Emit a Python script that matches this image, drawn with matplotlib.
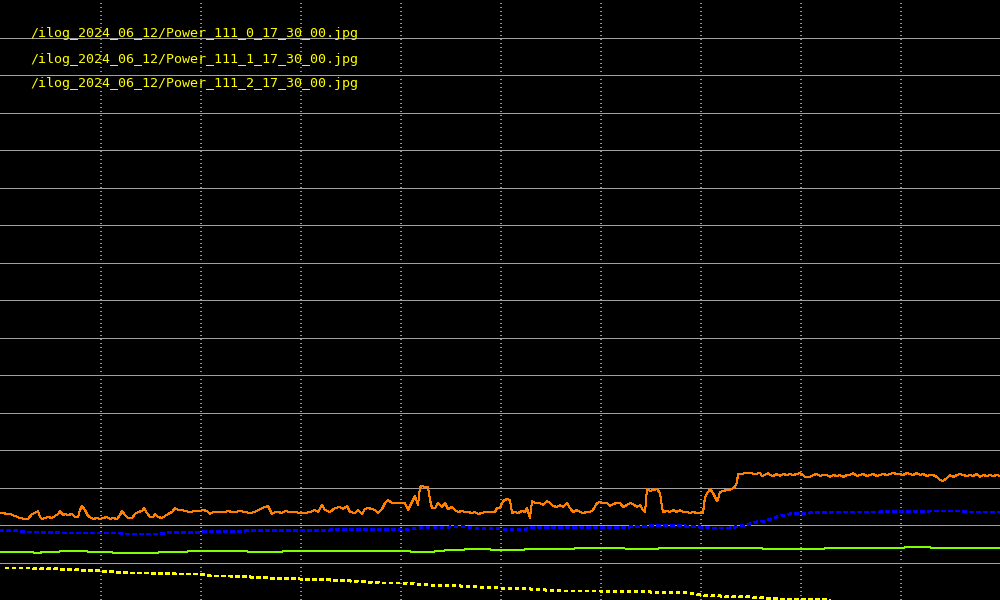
import matplotlib
matplotlib.use("Agg")
import matplotlib.pyplot as plt
import numpy as np

# ---- data (sample index 0..1000, level in screen units 0..600) ----
file_labels = [
    "/ilog_2024_06_12/Power_111_0_17_30_00.jpg",
    "/ilog_2024_06_12/Power_111_1_17_30_00.jpg",
    "/ilog_2024_06_12/Power_111_2_17_30_00.jpg",
]

orange_x = [0, 10, 15, 20, 25, 28, 32, 35, 38, 40, 42, 45, 48, 52, 55, 58, 60, 63, 65, 68,
            72, 75, 78, 80, 82, 85, 88, 90, 93, 97, 100, 103, 107, 110, 113, 117, 120, 122, 125, 128,
            132, 135, 138, 142, 144, 147, 150, 153, 155, 158, 162, 165, 168, 172, 175, 178, 182, 185, 190, 195,
            200, 203, 207, 210, 213, 218, 225, 228, 232, 235, 240, 245,
            250, 255, 260, 265, 268, 270, 272, 275, 278, 282, 285, 290, 295, 300, 305, 310, 315, 318, 322, 325,
            330, 335, 340, 343, 347, 350, 355, 358, 362, 365, 368, 372, 375, 378, 382, 385, 388, 392, 395, 400,
            405, 408, 412, 415, 418, 420, 422, 425, 428, 430, 432, 435, 438, 442, 445, 448, 452, 455, 458, 462,
            465, 468, 472, 475, 478, 482, 485, 488, 492, 495, 497,
            500, 503, 507, 510, 512, 515, 518, 522, 525, 527, 530, 532, 535, 540, 543, 547, 550, 553, 557, 560,
            563, 567, 570, 573, 577, 580, 583, 587, 590, 593, 597, 600, 603, 607, 610, 613, 617, 620, 623, 627,
            630, 633, 637, 640, 643, 645, 647, 650, 653, 657, 660, 662, 663, 667, 670, 673, 677, 680, 683, 687,
            690, 693, 697, 700, 703, 705, 708, 710, 713, 715, 717, 718, 720, 723, 727, 730, 733, 735, 737, 738,
            742, 745,
            750, 755, 760, 762, 765, 768, 770, 773, 777, 780, 783, 787, 790, 793, 797, 800, 803, 805, 810, 813,
            817, 820, 823, 827, 830, 833, 837, 840, 843, 847, 850, 853, 857, 860, 863, 867, 870, 873, 877, 880,
            883, 887, 890, 893, 897, 900, 903, 907, 910, 913, 917, 920, 923, 927, 930, 933, 937, 940, 943, 947,
            950, 953, 957, 960, 963, 967, 970, 973, 977, 980, 983, 987, 990, 993, 997, 1000]
orange_y = [87, 86, 84, 82, 81, 81, 86, 87, 89, 83, 81, 82, 83, 82, 84, 86, 89, 85, 86, 85,
            86, 83, 83, 90, 94, 90, 84, 83, 81, 82, 81, 82, 83, 81, 82, 81, 85, 89, 85, 82,
            82, 86, 88, 89, 92, 87, 83, 83, 86, 83, 82, 84, 86, 88, 92, 90, 90, 89, 88, 89,
            89, 90, 89, 86, 88, 88, 88, 89, 88, 88, 89, 88,
            87, 88, 91, 93, 94, 90, 86, 88, 88, 87, 89, 88, 88, 87, 87, 88, 90, 88, 95, 90,
            88, 92, 93, 91, 94, 88, 87, 90, 86, 91, 92, 91, 90, 87, 91, 97, 100, 97, 97, 97,
            97, 90, 98, 104, 95, 113, 114, 113, 113, 100, 92, 92, 97, 93, 97, 91, 93, 90, 88, 89,
            88, 88, 87, 88, 86, 87, 88, 88, 88, 88, 92,
            92, 99, 101, 100, 87, 88, 87, 89, 88, 92, 82, 99, 97, 97, 95, 99, 97, 94, 93, 95,
            93, 97, 92, 88, 90, 88, 87, 88, 88, 90, 97, 98, 97, 97, 94, 96, 97, 97, 93, 95,
            97, 96, 93, 95, 90, 88, 111, 109, 110, 111, 107, 93, 88, 89, 88, 90, 88, 90, 88, 88,
            87, 88, 87, 87, 87, 103, 108, 111, 107, 103, 99, 101, 108, 109, 110, 110, 112, 113, 118, 126,
            126, 127,
            127, 126, 127, 124, 125, 127, 125, 124, 126, 124, 126, 125, 126, 125, 126, 127, 125, 123, 123, 125,
            126, 124, 125, 125, 123, 125, 124, 125, 123, 125, 125, 127, 124, 125, 126, 124, 125, 126, 124, 125,
            126, 125, 126, 127, 126, 126, 125, 127, 126, 125, 127, 125, 126, 124, 125, 125, 123, 120, 119, 122,
            125, 123, 125, 126, 125, 124, 125, 124, 126, 123, 125, 124, 125, 124, 125, 124]

blue_x = [0, 20, 25, 40, 60, 120, 125, 160, 165, 200, 245, 255, 300, 330, 365, 400, 410, 420, 450, 460,
          475, 500, 510, 527, 530, 580, 600, 630, 670, 700, 710, 730, 745, 750, 757, 765, 773, 780, 790, 810,
          833, 880, 930, 960, 967, 1000]
blue_y = [70, 69, 68, 68, 67, 67, 66, 66, 67, 68, 69, 70, 69, 70, 71, 70, 71, 72, 73, 74,
          72, 71, 70, 71, 72, 73, 72, 73, 75, 73, 72, 72, 75, 76, 78, 79, 82, 84, 86, 87,
          88, 88, 89, 89, 88, 88]

green_x = [0, 30, 37, 45, 75, 100, 125, 143, 175, 200, 230, 265, 300, 350, 400, 420, 430, 450, 480, 500,
           550, 600, 650, 667, 700, 750, 775, 800, 850, 900, 910, 950, 1000]
green_y = [48, 48, 47, 48, 49, 48, 47, 47, 48, 49, 49, 48, 49, 49, 49, 48, 48, 50, 51, 50,
           51, 52, 51, 52, 52, 52, 51, 51, 52, 52, 53, 52, 52]

yellow_x = [5, 30, 60, 100, 130, 150, 175, 200, 210, 230, 250, 270, 300, 330, 350, 380, 400, 430, 460, 480,
            500, 530, 560, 600, 650, 690, 700, 720, 750, 780, 825, 830]
yellow_y = [32, 32, 31, 29, 27, 27, 26, 26, 24, 24, 23, 22, 21, 20, 19, 17, 17, 15, 14, 13,
            12, 11, 9, 9, 8, 7, 5, 4, 3, 1, 1, -1]

# ---- styling ----
plt.rcParams['lines.scale_dashes'] = False
BG = "#000000"
GRID = "#a0a0a0"
px = 72 / 100  # one pixel in points at dpi=100

fig = plt.figure(figsize=(10, 6), dpi=100, facecolor=BG)
ax = fig.add_axes([0, 0, 1, 1], facecolor=BG)
ax.set_xlim(0, 1000)
ax.set_ylim(0, 600)

ax.set_yticks(np.arange(37.5, 600, 37.5))
ax.set_xticks(np.arange(100.5, 1000, 100))
ax.yaxis.grid(True, color=GRID, linewidth=1 * px, linestyle='-')
ax.xaxis.grid(True, color="#909090", linewidth=2 * px, linestyle=(0, (1 * px, 3.4 * px)),
              antialiased=False)
ax.set_axisbelow(True)
ax.tick_params(length=0, labelbottom=False, labelleft=False)
for s in ax.spines.values():
    s.set_visible(False)

ax.plot(yellow_x, yellow_y, color="#ffff00", linewidth=2 * px,
        linestyle=(0, (4 * px, 3 * px)), antialiased=False)
ax.plot(green_x, green_y, color="#80ff00", linewidth=1 * px, antialiased=False)
ax.plot(blue_x, blue_y, color="#0000ff", linewidth=2 * px,
        linestyle=(0, (3 * px, 3.5 * px)), antialiased=False)
ax.plot(orange_x, orange_y, color="#ff8000", linewidth=1 * px, antialiased=False)

for i, lab in enumerate(file_labels):
    fig.text(30 / 1000, 1 - (34 + 25 * i) / 600, lab, color="#ffff00",
             fontsize=9.6, family="DejaVu Sans Mono", va="center", ha="left")

fig.savefig("out.png", dpi=100, facecolor=BG)
